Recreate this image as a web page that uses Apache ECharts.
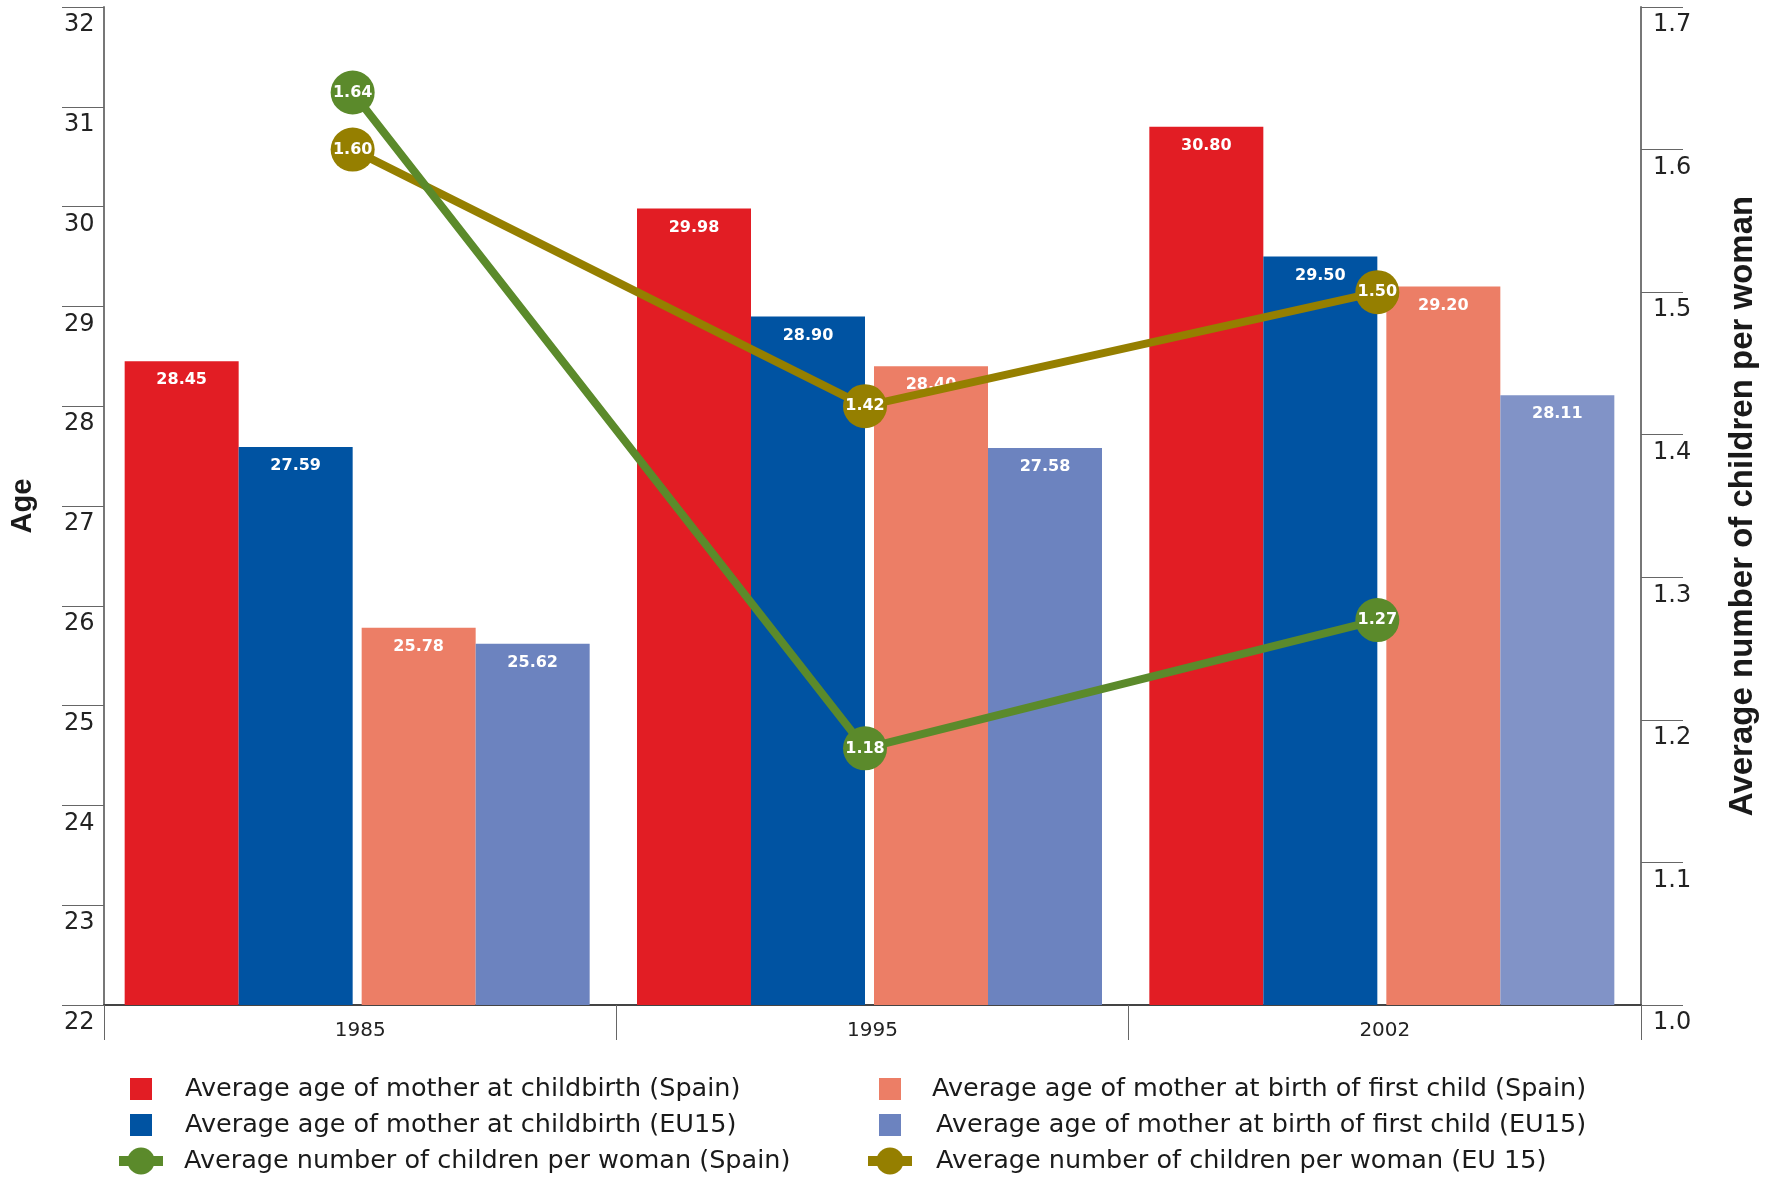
<!DOCTYPE html>
<html><head><meta charset="utf-8">
<script src="https://cdn.jsdelivr.net/npm/echarts@6/dist/echarts.min.js"></script>
<style>html,body{margin:0;padding:0;background:#fff}#c{width:1772px;height:1178px}</style>
</head><body><div id="c"></div>
<script>
const years = ['1985', '1995', '2002'];
const ageSpain = [28.45, 29.98, 30.80];
const ageEU15 = [27.59, 28.90, 29.50];
const firstSpain = [25.78, 28.40, 29.20];
const firstEU15 = [25.62, 27.58, 28.11];
const kidsSpain = [1.64, 1.18, 1.27];
const kidsEU15 = [1.60, 1.42, 1.50];
const ageTicks = {min: 22, max: 32, interval: 1};
const kidsTicks = {min: 1.0, max: 1.7, interval: 0.1};
const seriesNames = [
  'Average age of mother at childbirth (Spain)',
  'Average age of mother at childbirth (EU15)',
  'Average age of mother at birth of first child (Spain)',
  'Average age of mother at birth of first child (EU15)',
  'Average number of children per woman (Spain)',
  'Average number of children per woman (EU 15)'
];
const colors = ['#e21d24', '#0053a2', '#ec7e66', '#6c83bf', '#5b8a2b', '#957f00'];
const lavender2002 = '#8193c7';

const chart = echarts.init(document.getElementById('c'), null, {renderer: 'canvas'});

const barLabel = {
  show: true, position: 'insideTop', distance: 11, color: '#fff',
  fontFamily: 'DejaVu Sans', fontWeight: 'bold', fontSize: 16,
  formatter: p => Number(p.value).toFixed(2)
};
const lineLabel = {
  show: true, position: 'inside', color: '#fff',
  fontFamily: 'DejaVu Sans', fontWeight: 'bold', fontSize: 16,
  formatter: p => Number(p.value).toFixed(2)
};
function bar(i, data) {
  return {type: 'bar', name: seriesNames[i], xAxisIndex: 0, yAxisIndex: 0, data: data,
    barWidth: 114, barGap: '0%', itemStyle: {color: colors[i]}, label: barLabel};
}
function spacer(w) {
  return {type: 'bar', name: '_sp' + w, xAxisIndex: 0, yAxisIndex: 0, data: years.map(() => null),
    barWidth: w, barGap: '0%', silent: true, itemStyle: {color: 'rgba(0,0,0,0)'}};
}
function line(i, data) {
  return {type: 'line', name: seriesNames[i], xAxisIndex: 1, yAxisIndex: 2, data: data,
    symbol: 'circle', symbolSize: 44, lineStyle: {color: colors[i], width: 8},
    itemStyle: {color: colors[i]}, label: lineLabel};
}
const legendText = {fontFamily: 'DejaVu Sans', fontSize: 25.5, color: '#1a1a1a'};
function legRect(name, left, cy, pad) {
  return {show: true, data: [name], left: left, top: cy - 11, padding: 0, itemWidth: 22, itemHeight: 22,
    icon: 'rect', selectedMode: false,
    textStyle: Object.assign({}, legendText, {lineHeight: 22, padding: [0, 0, 0, pad]})};
}
function legLine(name, left, cy, pad) {
  return {show: true, data: [name], left: left, top: cy - 17, padding: 0, itemWidth: 44, itemHeight: 34,
    selectedMode: false, lineStyle: {width: 10},
    textStyle: Object.assign({}, legendText, {lineHeight: 34, padding: [0, 0, 0, pad]})};
}

const option = {
  animation: false,
  backgroundColor: '#fff',
  textStyle: {fontFamily: 'DejaVu Sans'},
  grid: [
    {left: 104, right: 131, top: 7, bottom: 173, outerBoundsMode: 'none'},
    {left: 96.5, right: 138.5, top: 7, bottom: 173, outerBoundsMode: 'none'}
  ],
  legend: [
    legRect(seriesNames[0], 130, 1087, 28),
    legRect(seriesNames[1], 130, 1123, 28),
    legLine(seriesNames[4], 114, 1161, 16),
    legRect(seriesNames[2], 879, 1087, 26),
    legRect(seriesNames[3], 879, 1123, 30),
    legLine(seriesNames[5], 863, 1161, 19)
  ],
  xAxis: [
    {type: 'category', gridIndex: 0, data: years,
      axisLine: {show: true, lineStyle: {color: '#444', width: 2}},
      axisTick: {show: true, length: 35, alignWithLabel: false, lineStyle: {color: '#666', width: 1}},
      axisLabel: {interval: 0, fontFamily: 'DejaVu Sans', fontSize: 20, color: '#222', margin: 16},
      splitLine: {show: false}},
    {type: 'category', gridIndex: 1, data: years, show: false}
  ],
  yAxis: [
    {type: 'value', gridIndex: 0, position: 'left', min: ageTicks.min, max: ageTicks.max, interval: ageTicks.interval,
      name: 'Age', nameLocation: 'middle', nameGap: 67,
      nameTextStyle: {fontFamily: 'Liberation Sans', fontWeight: 'bold', fontSize: 29, color: '#1a1a1a'},
      axisLine: {show: true, lineStyle: {color: '#777', width: 2}},
      axisTick: {show: true, length: 42, lineStyle: {color: '#666', width: 1}},
      axisLabel: {align: 'left', verticalAlign: 'top', margin: 40, padding: [6, 0, 0, 0],
        fontFamily: 'DejaVu Sans', fontSize: 24, color: '#222'},
      splitLine: {show: false}},
    {type: 'value', gridIndex: 0, position: 'right', min: kidsTicks.min, max: kidsTicks.max, interval: kidsTicks.interval,
      name: 'Average number of children per woman', nameLocation: 'middle', nameGap: 85,
      nameTextStyle: {fontFamily: 'Liberation Sans', fontWeight: 'bold', fontSize: 33, color: '#1a1a1a'},
      axisLine: {show: true, lineStyle: {color: '#777', width: 2}},
      axisTick: {show: true, length: 42, lineStyle: {color: '#666', width: 1}},
      axisLabel: {align: 'left', verticalAlign: 'top', margin: 12, padding: [6, 0, 0, 0],
        fontFamily: 'DejaVu Sans', fontSize: 24, color: '#222',
        formatter: v => Number(v).toFixed(1)},
      splitLine: {show: false}},
    {type: 'value', gridIndex: 1, min: kidsTicks.min, max: kidsTicks.max, show: false}
  ],
  series: [
    bar(0, ageSpain),
    bar(1, ageEU15),
    spacer(9),
    bar(2, firstSpain),
    bar(3, firstEU15.map((v, i) => i === 2 ? {value: v, itemStyle: {color: lavender2002}} : v)),
    spacer(6),
    line(5, kidsEU15),
    line(4, kidsSpain)
  ]
};
chart.setOption(option);
</script>
</body></html>
